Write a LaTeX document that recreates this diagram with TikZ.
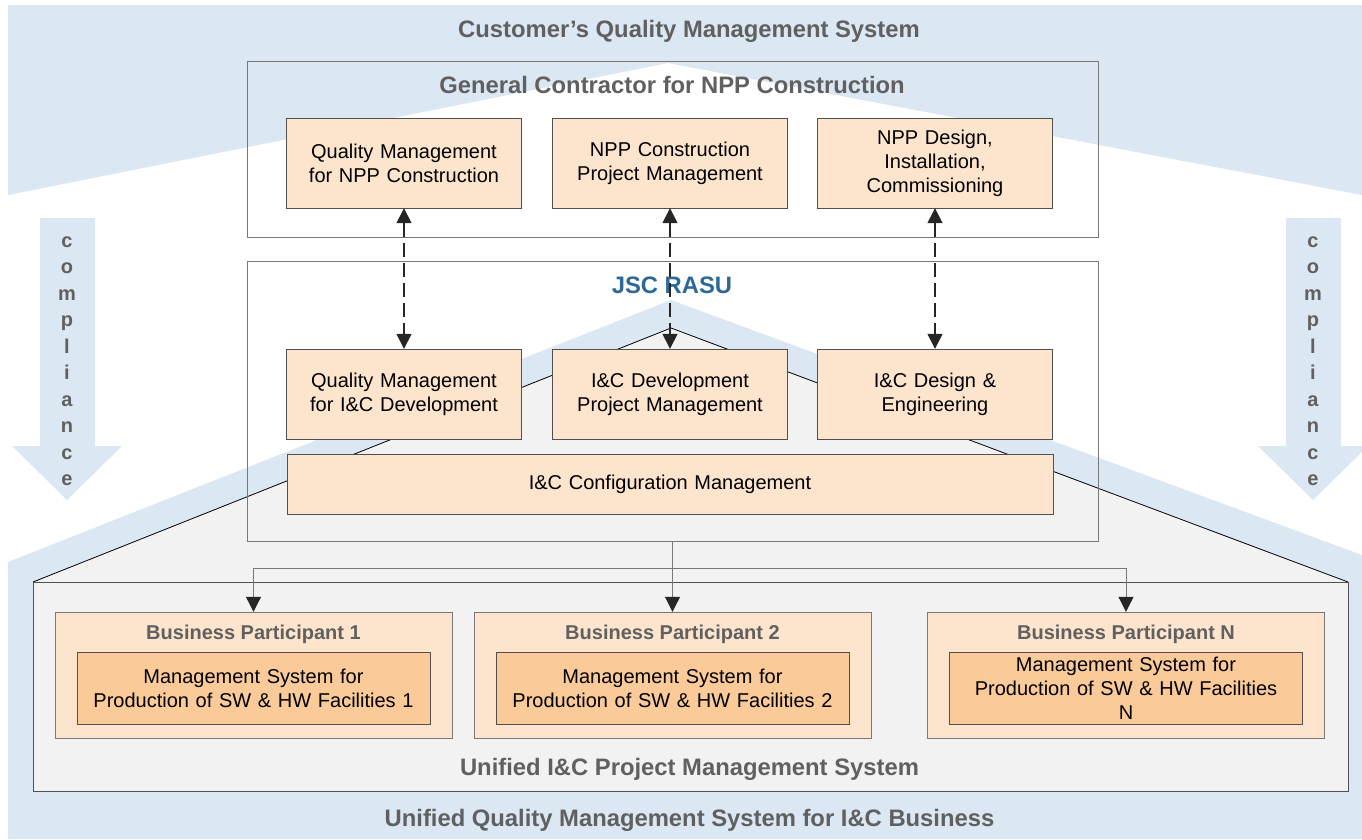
\documentclass[tikz,border=0pt]{standalone}
\usepackage{fontspec}
\setmainfont{Liberation Sans}
\usetikzlibrary{positioning, arrows.meta}
\definecolor{skyband}{RGB}{219,231,242}
\definecolor{peach}{RGB}{253,229,205}
\definecolor{apricot}{RGB}{250,203,153}
\definecolor{housegray}{RGB}{242,242,242}
\definecolor{framegray}{RGB}{120,120,120}
\definecolor{boxgray}{RGB}{80,80,80}
\definecolor{titlegray}{RGB}{96,96,96}
\definecolor{arrowdark}{RGB}{38,38,38}
\definecolor{rasublue}{RGB}{46,104,150}

\begin{document}
\begin{tikzpicture}[x=1pt, y=-1pt,
unit/.style={rectangle, draw=boxgray, fill=peach, inner sep=0pt, minimum width=235pt, minimum height=90pt, text width=225pt, align=center, font=\fontsize{20}{24}\selectfont},
frame/.style={rectangle, draw=framegray, inner sep=0pt},
partner/.style={rectangle, draw=framegray, fill=peach, inner sep=0pt, minimum width=397pt, minimum height=126pt},
facility/.style={rectangle, draw=boxgray, fill=apricot, inner sep=0pt, minimum width=353pt, minimum height=72pt, text width=345pt, align=center, font=\fontsize{20}{24}\selectfont},
heading/.style={inner sep=0pt, text=titlegray, font=\fontsize{23.8}{28}\selectfont\bfseries},
subheading/.style={inner sep=0pt, text=titlegray, font=\fontsize{20}{24}\selectfont\bfseries},
spelled/.style={inner sep=0pt, text=titlegray, align=center, font=\fontsize{20}{26.5}\selectfont\bfseries},
link/.style={draw=arrowdark, line width=1.5pt, dash pattern=on 14pt off 6pt, {Triangle[length=15pt,width=15pt]}-{Triangle[length=15pt,width=15pt]}},
feed/.style={draw=framegray, line width=1pt, -{Triangle[length=15pt,width=15pt,color=arrowdark]}}
]
\useasboundingbox (0,0) rectangle (1362,839);

% background bands
\fill[skyband] (8,5) -- (1362,5) -- (1362,195) -- (668,63) -- (8,195) -- cycle;
\fill[skyband] (8,562) -- (671,300) -- (1362,555) -- (1362,839) -- (8,839) -- cycle;
\fill[skyband] (40,218) -- (95,218) -- (95,446) -- (122,446) -- (67,500) -- (12,446) -- (40,446) -- cycle;
\fill[skyband] (1286,218) -- (1341,218) -- (1341,446) -- (1368,446) -- (1313,500) -- (1258,446) -- (1286,446) -- cycle;
\fill[housegray] (33,582) -- (671,328) -- (1348,582) -- (1348,791) -- (33,791) -- cycle;
\draw[black, line width=0.8pt] (33,582) -- (671,328) -- (1348,582);

\node[spelled] (compleft)  at (67,361)   {c\\o\\m\\p\\l\\i\\a\\n\\c\\e};
\node[spelled] (compright) at (1313,361) {c\\o\\m\\p\\l\\i\\a\\n\\c\\e};

% frames
\node[frame, minimum width=851pt, minimum height=176pt] (contractor) at (672.5,149) {};
\node[frame, minimum width=851pt, minimum height=280pt] (rasu) at (672.5,401) {};
\node[frame, draw=boxgray, minimum width=1315pt, minimum height=209pt] (unified) at (690.5,686.5) {};

\node[heading] (customertitle) at (689,31) {Customer’s Quality Management System};
\node[heading] (contractortitle) at (672,85) {General Contractor for NPP Construction};
\node[heading, text=rasublue] (rasutitle) at (672,285) {JSC RASU};
\node[heading] (unifiedtitle) at (689.5,769) {Unified I\&C Project Management System};
\node[heading] (businesstitle) at (689.5,820) {Unified Quality Management System for I\&C Business};

% contractor units
\node[unit] (qmnpp) at (404,163) {Quality Management\\for NPP Construction};
\node[unit] (pmnpp) at (670,163) {NPP Construction\\Project Management};
\node[unit] (dcnpp) at (935,163) {NPP Design,\\Installation,\\Commissioning};

% RASU units
\node[unit] (qmic) at (404,394) {Quality Management\\for I\&C Development};
\node[unit] (pmic) at (670,394) {I\&C Development\\Project Management};
\node[unit] (deic) at (935,394) {I\&C Design \&\\Engineering};
\node[unit, minimum width=766pt, minimum height=60pt, text width=750pt] (config) at (670,484) {I\&C Configuration Management};

\path[link] (qmnpp) -- (qmic);
\path[link] (pmnpp) -- (pmic);
\path[link] (dcnpp) -- (deic);

% business participants
\node[partner] (bp1) at (253.5,675) {};
\node[partner] (bp2) at (672.5,675) {};
\node[partner] (bpn) at (1126,675) {};
\node[subheading] (bp1title) at ([yshift=-23pt]bp1.north) {Business Participant 1};
\node[subheading] (bp2title) at ([yshift=-23pt]bp2.north) {Business Participant 2};
\node[subheading] (bpntitle) at ([yshift=-23pt]bpn.north) {Business Participant N};
\node[facility] (ms1) at (253.5,688) {Management System for\\Production of SW \& HW Facilities 1};
\node[facility] (ms2) at (672.5,688) {Management System for\\Production of SW \& HW Facilities 2};
\node[facility] (msn) at (1126,688) {Management System for\\Production of SW \& HW Facilities\\N};

\coordinate (split) at (672.5,568);
\path[feed] (rasu.south) -- (bp2.north);
\path[feed] (split) -| (bp1.north);
\path[feed] (split) -| (bpn.north);
\end{tikzpicture}
\end{document}
